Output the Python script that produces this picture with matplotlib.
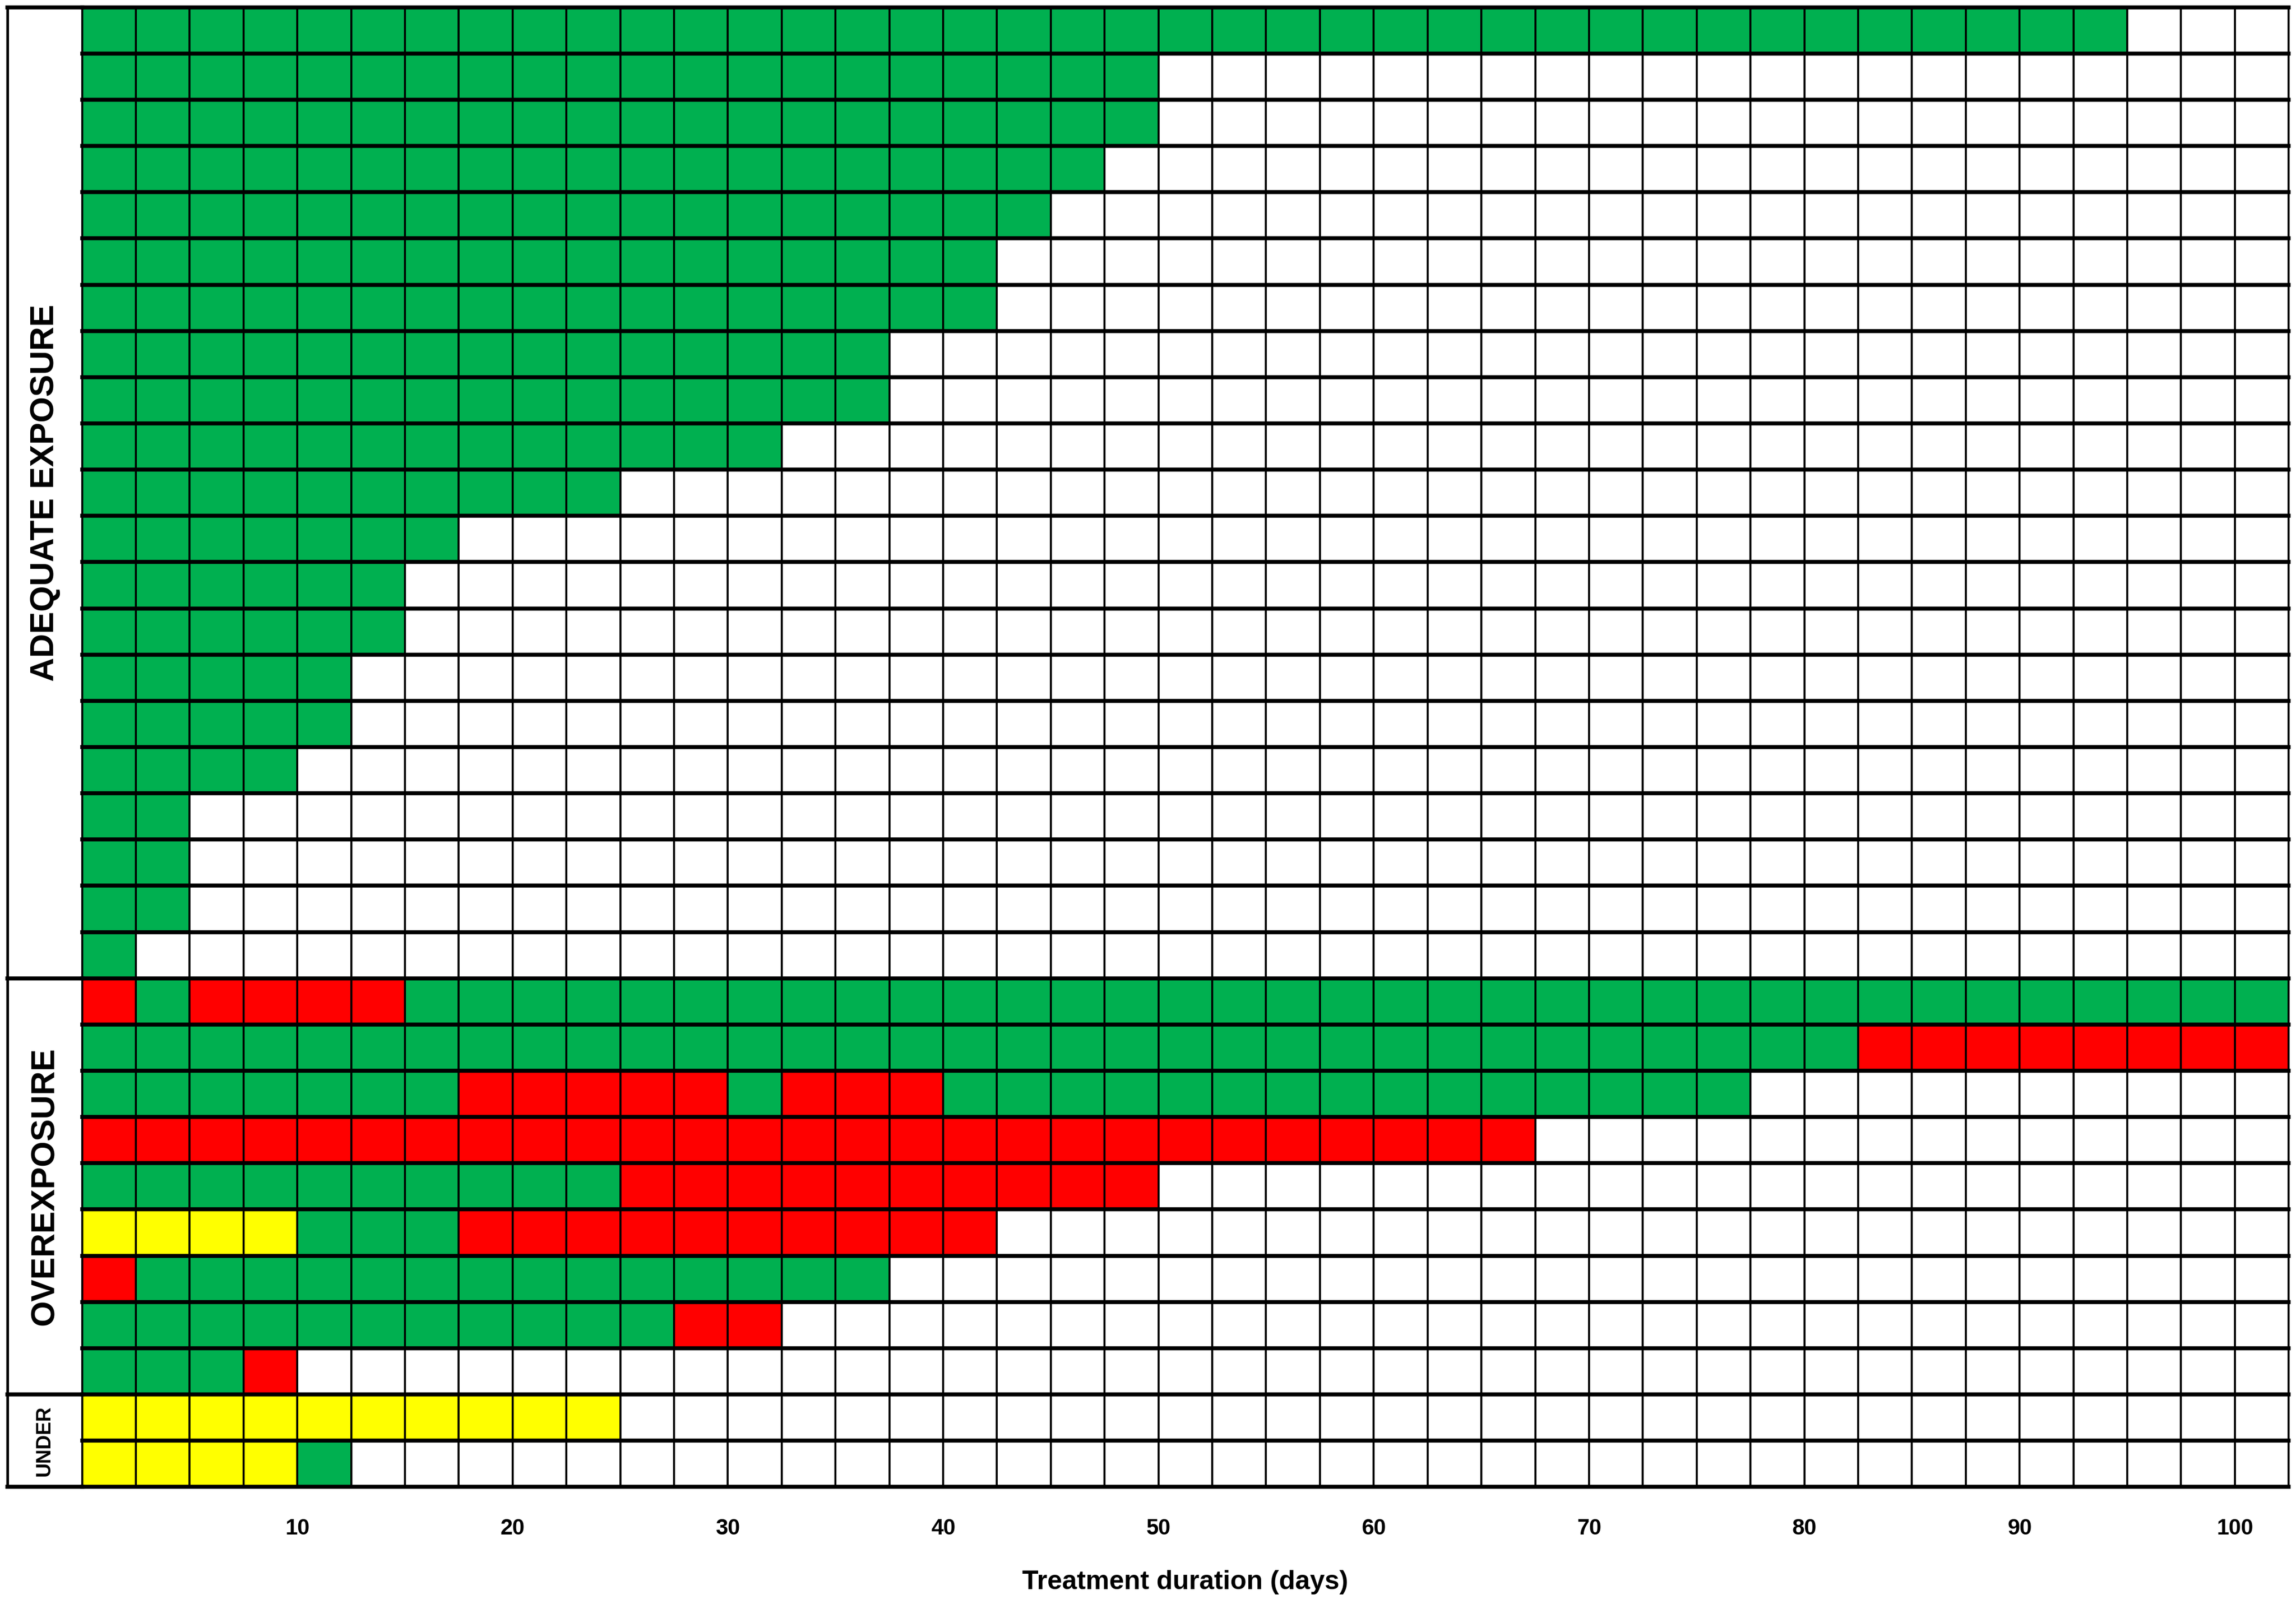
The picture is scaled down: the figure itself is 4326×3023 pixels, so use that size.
import numpy as np
import matplotlib.pyplot as plt
from matplotlib.colors import ListedColormap

# each column = 2.5 days; G green, R red, Y yellow, W empty
adequate_len = [38, 20, 20, 19, 18, 17, 17, 15, 15, 13, 10, 7, 6, 6, 5, 5, 4, 2, 2, 2, 1]
over_rows = [
    "RGRRRR" + "G" * 35,
    "G" * 33 + "R" * 8,
    "G" * 7 + "R" * 5 + "G" + "R" * 3 + "G" * 15,
    "R" * 27,
    "G" * 10 + "R" * 10,
    "YYYY" + "GGG" + "R" * 10,
    "R" + "G" * 14,
    "G" * 11 + "RR",
    "GGGR",
]
under_rows = ["Y" * 10, "YYYYG"]
sections = ["ADEQUATE EXPOSURE", "OVEREXPOSURE", "UNDER"]
xticks = [10, 20, 30, 40, 50, 60, 70, 80, 90, 100]

ncol = 41
colw = 2.5
rows = ["G" * n for n in adequate_len] + over_rows + under_rows
codes = {"W": 0, "G": 1, "R": 2, "Y": 3}
grid = np.zeros((len(rows), ncol))
for i, r in enumerate(rows):
    for j, c in enumerate(r):
        grid[i, j] = codes[c]
nrow = len(rows)

cmap = ListedColormap(["white", "#00B050", "#FF0000", "#FFFF00"])
fig = plt.figure(figsize=(14.42, 10.077), dpi=300)
ax = fig.add_axes([56 / 1568, 1 - 1016 / 1096, 1507 / 1568, 1011 / 1096])
xe = np.arange(ncol + 1) * colw
ye = np.arange(nrow + 1)
ax.pcolormesh(xe, ye, grid, cmap=cmap, vmin=0, vmax=3)
ax.set_xlim(0, ncol * colw)
ax.set_ylim(nrow, 0)
for x in xe:
    ax.plot([x, x], [0, nrow], color="black", lw=0.9, clip_on=False)
for y in ye:
    ax.plot([0, ncol * colw], [y, y], color="black", lw=1.8, clip_on=False)

# label column on the left
lw_days = 51 / 1507 * ncol * colw
bounds = [0, len(adequate_len), len(adequate_len) + len(over_rows), nrow]
ax.plot([-lw_days, -lw_days], [0, nrow], color="black", lw=1.2, clip_on=False)
for b in bounds:
    ax.plot([-lw_days, 0], [b, b], color="black", lw=1.8, clip_on=False)
sizes = [15, 15, 9]
for k, name in enumerate(sections):
    ax.text(-lw_days / 2, (bounds[k] + bounds[k + 1]) / 2, name, rotation=90,
            ha="center", va="center", fontsize=sizes[k], fontweight="bold",
            family="Liberation Sans", clip_on=False)

ax.set_xticks(xticks)
ax.set_xticklabels([str(t) for t in xticks], fontsize=10, fontweight="bold",
                   family="Liberation Sans")
ax.tick_params(axis="x", length=0, pad=14)
ax.set_yticks([])
for s in ax.spines.values():
    s.set_visible(False)
ax.set_xlabel("Treatment duration (days)", fontsize=12, fontweight="bold",
              family="Liberation Sans", labelpad=14)
fig.savefig("out.png", dpi=300)
